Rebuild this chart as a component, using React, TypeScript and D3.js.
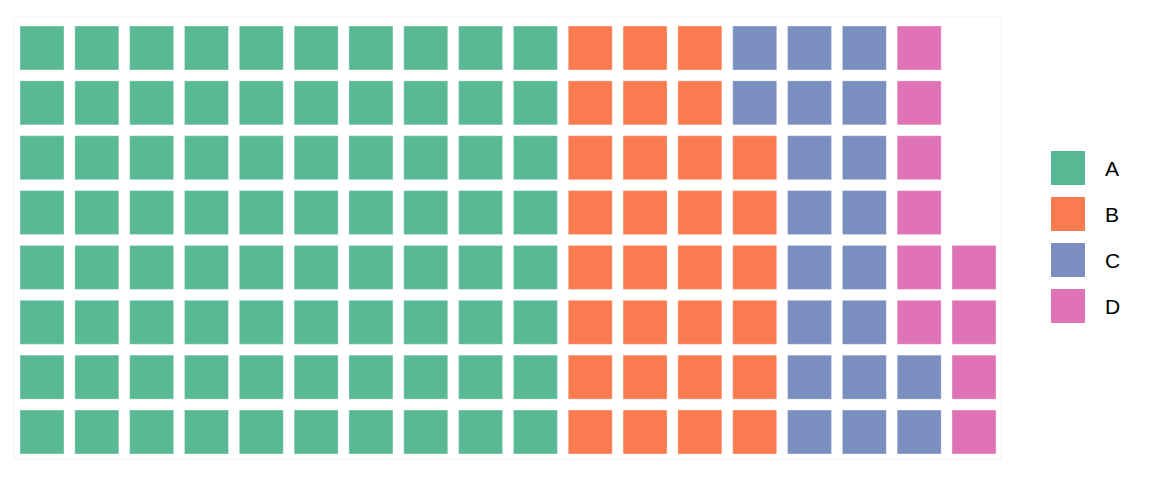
import React from "react";
import * as d3 from "d3";

const categories = ["A", "B", "C", "D"];
const values = [80, 30, 20, 10];
const colors = ["#59b994", "#fa7b50", "#7b8ec0", "#e073b6"];
const nRows = 8;

export default function App() {
  const W = 1152, H = 480;
  const total = d3.sum(values);
  const nCols = Math.ceil(total / nRows);
  const x = d3.scaleLinear().domain([0, nCols - 1]).range([42, 974]);
  const y = d3.scaleLinear().domain([0, nRows - 1]).range([48, 432]);
  const size = 44;

  const cells: { col: number; row: number; cat: number }[] = [];
  let idx = 0;
  values.forEach((v, ci) => {
    for (let k = 0; k < v; k++) {
      const col = Math.floor(idx / nRows);
      const rowFromBottom = idx % nRows;
      cells.push({ col, row: nRows - 1 - rowFromBottom, cat: ci });
      idx++;
    }
  });

  const legY = d3.scaleLinear().domain([0, 3]).range([168, 306]);

  return (
    <svg width={W} height={H} style={{ display: "block", position: "absolute", left: 0, top: 0 }}>
      <rect x={0} y={0} width={W} height={H} fill="#ffffff" />
      <rect x={14} y={17} width={987} height={442} fill="none" stroke="#f2f2f2" strokeWidth={1} />
      {cells.map((c, i) => (
        <rect
          key={i}
          x={x(c.col) - size / 2}
          y={y(c.row) - size / 2}
          width={size}
          height={size}
          fill={colors[c.cat]}
          stroke="#ffffff"
          strokeOpacity={0.35}
          strokeWidth={1}
        />
      ))}
      {categories.map((cat, i) => (
        <g key={cat}>
          <rect x={1051} y={legY(i) - 17} width={34} height={34} fill={colors[i]} />
          <text
            x={1105}
            y={legY(i) + 7.5}
            fontFamily="Liberation Sans, Arial, sans-serif"
            fontSize={21}
            fill="#000"
          >
            {cat}
          </text>
        </g>
      ))}
    </svg>
  );
}
